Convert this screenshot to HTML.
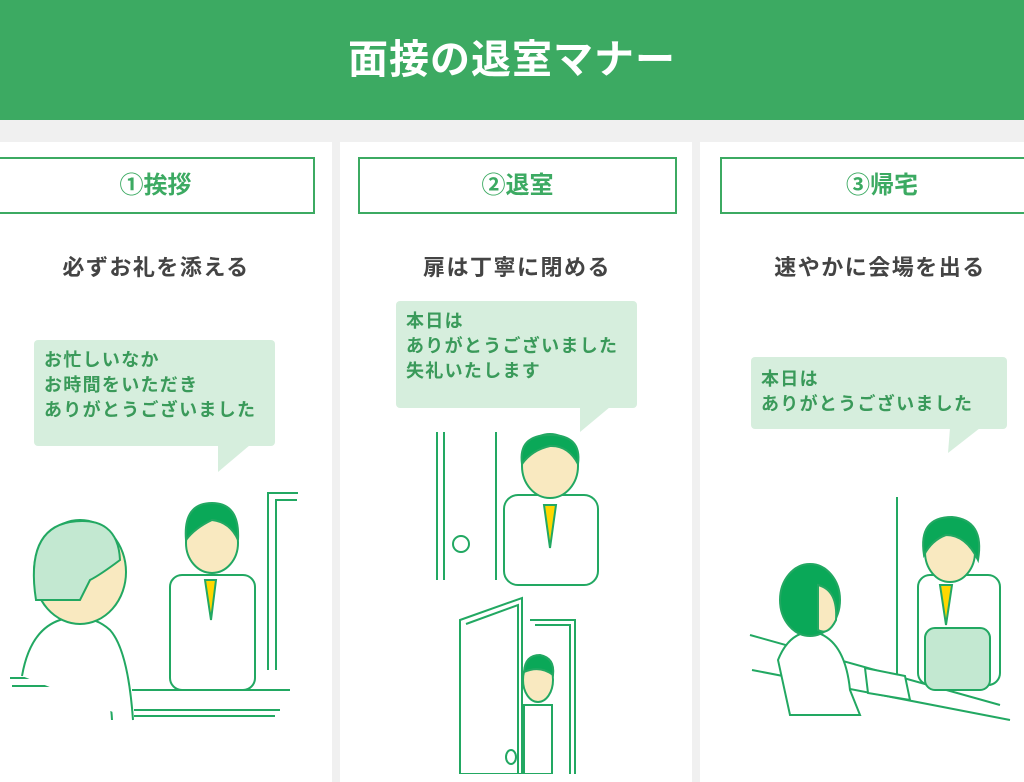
<!DOCTYPE html>
<html><head><meta charset="utf-8"><style>
body{margin:0;width:1024px;height:774px;overflow:hidden;background:#f0f0f0;font-family:"Liberation Sans","Noto Sans CJK JP",sans-serif;position:relative}
.hdr{position:absolute;left:0;top:0;width:1024px;height:120px;background:#3caa62;color:#fff;font-size:40px;font-weight:bold;text-align:center;line-height:120px;letter-spacing:1px}
.p{position:absolute;top:142px;height:640px;background:#fff}
.box{position:absolute;top:157px;height:53px;border:2px solid #3caa62;color:#3caa62;font-size:24px;font-weight:bold;text-align:center;line-height:53px;background:#fff}
.sub{position:absolute;top:250px;font-size:22px;font-weight:bold;color:#444;text-align:center;letter-spacing:1.5px}
.b{position:absolute;background:#d6eedd;color:#3a9a5a;font-size:18px;font-weight:bold;line-height:25px;padding:8px 10px;border-radius:4px;box-sizing:border-box;letter-spacing:1.3px;white-space:nowrap}
svg{position:absolute;left:0;top:0}
</style></head><body>
<div class="hdr">面接の退室マナー</div>
<div class="p" style="left:0;width:332px"></div>
<div class="p" style="left:340px;width:352px"></div>
<div class="p" style="left:700px;width:324px"></div>
<div class="box" style="left:-4px;width:315px">①挨拶</div>
<div class="box" style="left:358px;width:315px">②退室</div>
<div class="box" style="left:720px;width:320px">③帰宅</div>
<div class="sub" style="left:0;width:312px">必ずお礼を添える</div>
<div class="sub" style="left:358px;width:318px">扉は丁寧に閉める</div>
<div class="sub" style="left:720px;width:320px">速やかに会場を出る</div>
<div class="b" style="left:34px;top:340px;width:241px;height:106px">お忙しいなか<br>お時間をいただき<br>ありがとうございました</div>
<div class="b" style="left:396px;top:301px;width:241px;height:107px">本日は<br>ありがとうございました<br>失礼いたします</div>
<div class="b" style="left:751px;top:357px;width:256px;height:72px;padding-top:10px">本日は<br>ありがとうございました</div>
<svg width="1024" height="774" viewBox="0 0 1024 774" fill="none" stroke="#22a862" stroke-width="2">
<polygon points="218,445 250,445 218,472" fill="#d6eedd" stroke="none"/>
<polygon points="580,407 610,407 580,432" fill="#d6eedd" stroke="none"/>
<polygon points="950,428 980,428 948,453" fill="#d6eedd" stroke="none"/>
<path d="M268,670 V493 H298 M276,670 V500 H297"/>
<path d="M10,678 H90 Q110,678 112,720 M12,686 H88 M132,690 H290 M134,710 H280 M134,716 H275"/>
<path d="M22,676 Q30,630 60,620 Q90,612 110,630 Q128,650 133,720" fill="#fff"/>
<ellipse cx="80" cy="572" rx="46" ry="52" fill="#f9e9c0"/>
<path d="M36,600 Q25,530 70,522 Q118,515 120,560 Q100,575 90,580 L80,600 Z" fill="#c3e8d1"/>
<rect x="170" y="575" width="85" height="115" rx="12" fill="#fff"/>
<path d="M205,580 L211,620 L216,580 Z" fill="#ffd700"/>
<ellipse cx="212" cy="543" rx="26" ry="30" fill="#f9e9c0"/>
<path d="M186,540 Q183,503 212,503 Q240,503 238,540 Q230,522 212,520 Q195,528 186,540Z" fill="#0aa858"/>
<path d="M437,432 V580 M444,432 V580 M496,432 V580"/>
<ellipse cx="461" cy="544" rx="8" ry="8"/>
<rect x="504" y="495" width="94" height="90" rx="14" fill="#fff"/>
<path d="M544,505 L550,548 L556,505 Z" fill="#ffd700"/>
<ellipse cx="550" cy="466" rx="28" ry="32" fill="#f9e9c0"/>
<path d="M522,464 Q518,435 550,435 Q582,435 578,464 Q568,445 550,446 Q532,450 522,464Z" fill="#0aa858"/>
<path d="M530,620 H575 V774 M535,625 H570 V774"/>
<path d="M460,620 L522,598 V774 L460,774 Z" fill="#fff"/>
<path d="M466,624 L518,605 V774"/>
<ellipse cx="538" cy="680" rx="15" ry="22" fill="#f9e9c0"/>
<path d="M524,672 Q525,655 540,655 Q555,658 553,675 Q540,665 524,672Z" fill="#0aa858"/>
<path d="M524,705 H552 V774 H524Z" fill="#fff"/>
<ellipse cx="511" cy="757" rx="5" ry="7"/>
<path d="M897,497 V690 M750,635 L1000,705 M752,670 L1010,720"/>
<rect x="918" y="575" width="82" height="110" rx="12" fill="#fff"/>
<path d="M940,585 L946,625 L952,585 Z" fill="#ffd700"/>
<ellipse cx="950" cy="552" rx="25" ry="30" fill="#f9e9c0"/>
<path d="M924,555 Q918,517 952,517 Q985,520 978,560 Q966,535 946,535 Q932,540 924,555Z" fill="#0aa858"/>
<rect x="925" y="628" width="65" height="62" rx="10" fill="#c3e8d1"/>
<path d="M865,668 L905,676 L910,700 L868,693Z" fill="#fff"/>
<path d="M778,660 Q790,630 815,632 Q845,640 850,690 L860,715 L790,715 Z" fill="#fff"/>
<ellipse cx="810" cy="600" rx="30" ry="36" fill="#0aa858"/>
<path d="M818,585 Q838,590 836,620 Q828,636 818,630Z" fill="#f9e9c0"/>
</svg>
</body></html>
